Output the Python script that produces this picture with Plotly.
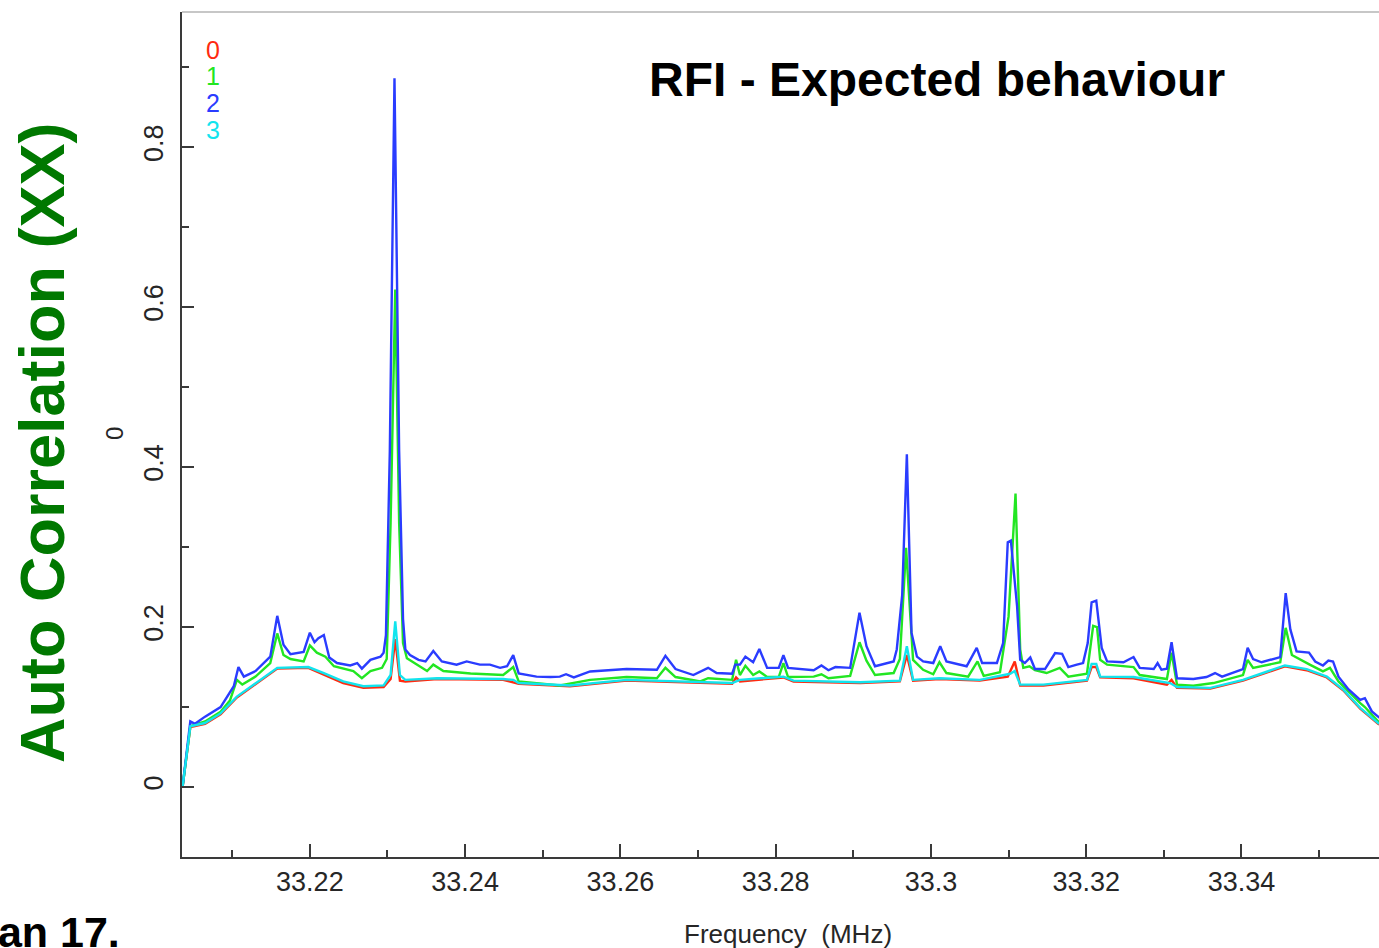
import plotly.graph_objects as go

# ---- figure geometry (pixels) ----
W, H = 1379, 948
M_L, M_R, M_T, M_B = 182, 0, 12, 91
PLOT_W = W - M_L - M_R
PLOT_H = H - M_T - M_B


def paper_x(xp):
    return (xp - M_L) / PLOT_W


def paper_y(yp):
    return (H - M_B - yp) / PLOT_H


# ---- axes ----
X_RANGE = [33.20353, 33.35772]
Y_RANGE = [-0.0875, 0.969]
X_TICKS = [33.22, 33.24, 33.26, 33.28, 33.30, 33.32, 33.34]
X_TICK_TEXT = ["33.22", "33.24", "33.26", "33.28", "33.3", "33.32", "33.34"]
Y_TICKS = [0, 0.2, 0.4, 0.6, 0.8]
Y_TICK_TEXT = ["0", "0.2", "0.4", "0.6", "0.8"]

# ---- auto-correlation spectra, one per input (frequency in MHz) ----
FREQ_0 = [33.2036, 33.2046, 33.2065, 33.2085, 33.2106, 33.2130, 33.2158, 33.2198,
          33.2218, 33.2243, 33.2269, 33.2295, 33.2304, 33.2310, 33.2316, 33.2323,
          33.2364, 33.2449, 33.2469, 33.2535, 33.2608, 33.2744, 33.2749, 33.2754,
          33.2810, 33.2823, 33.2909, 33.2960, 33.2969, 33.2977, 33.3011, 33.3063,
          33.3099, 33.3108, 33.3115, 33.3145, 33.3201, 33.3207, 33.3213, 33.3218,
          33.3261, 33.3304, 33.3310, 33.3317, 33.3360, 33.3402, 33.3456, 33.3484,
          33.3510, 33.3531, 33.3553, 33.3576, 33.3585]
AC_0 = [0.000, 0.075, 0.079, 0.091, 0.112, 0.129, 0.148, 0.149,
        0.141, 0.130, 0.124, 0.125, 0.135, 0.185, 0.133, 0.132,
        0.135, 0.134, 0.129, 0.126, 0.133, 0.129, 0.137, 0.132,
        0.137, 0.132, 0.130, 0.132, 0.165, 0.133, 0.135, 0.133,
        0.138, 0.157, 0.127, 0.127, 0.133, 0.150, 0.150, 0.137,
        0.136, 0.128, 0.134, 0.124, 0.123, 0.133, 0.151, 0.146,
        0.137, 0.121, 0.098, 0.079, 0.075]

FREQ_1 = [33.2036, 33.2046, 33.2065, 33.2085, 33.2097, 33.2106, 33.2113, 33.2130,
          33.2149, 33.2158, 33.2166, 33.2175, 33.2192, 33.2200, 33.2209, 33.2220,
          33.2231, 33.2256, 33.2267, 33.2278, 33.2293, 33.2299, 33.2304, 33.2310,
          33.2315, 33.2320, 33.2325, 33.2338, 33.2351, 33.2359, 33.2372, 33.2407,
          33.2449, 33.2462, 33.2469, 33.2522, 33.2561, 33.2608, 33.2647, 33.2658,
          33.2671, 33.2703, 33.2713, 33.2744, 33.2749, 33.2754, 33.2761, 33.2771,
          33.2779, 33.2789, 33.2804, 33.2810, 33.2816, 33.2849, 33.2859, 33.2868,
          33.2896, 33.2908, 33.2917, 33.2928, 33.2952, 33.2960, 33.2968, 33.2977,
          33.2990, 33.3003, 33.3011, 33.3020, 33.3048, 33.3060, 33.3068, 33.3089,
          33.3100, 33.3109, 33.3115, 33.3119, 33.3127, 33.3134, 33.3149, 33.3166,
          33.3177, 33.3201, 33.3209, 33.3214, 33.3218, 33.3227, 33.3261, 33.3269,
          33.3304, 33.3310, 33.3317, 33.3338, 33.3364, 33.3402, 33.3408, 33.3415,
          33.3450, 33.3457, 33.3465, 33.3488, 33.3505, 33.3514, 33.3525, 33.3553,
          33.3559, 33.3576, 33.3585]
AC_1 = [0.000, 0.076, 0.082, 0.094, 0.108, 0.134, 0.128, 0.138,
        0.155, 0.192, 0.165, 0.160, 0.157, 0.177, 0.168, 0.163,
        0.151, 0.145, 0.136, 0.145, 0.149, 0.160, 0.330, 0.622,
        0.330, 0.180, 0.161, 0.153, 0.145, 0.153, 0.145, 0.142,
        0.140, 0.150, 0.132, 0.127, 0.134, 0.1375, 0.136, 0.149,
        0.1375, 0.132, 0.136, 0.134, 0.159, 0.140, 0.1516, 0.140,
        0.1445, 0.1375, 0.1375, 0.155, 0.1375, 0.138, 0.141, 0.136,
        0.139, 0.181, 0.158, 0.140, 0.1425, 0.160, 0.299, 0.159,
        0.1466, 0.141, 0.156, 0.1425, 0.138, 0.157, 0.139, 0.1435,
        0.213, 0.367, 0.172, 0.149, 0.151, 0.146, 0.1425, 0.149,
        0.138, 0.1416, 0.2016, 0.200, 0.159, 0.153, 0.150, 0.140,
        0.135, 0.168, 0.128, 0.1266, 0.130, 0.140, 0.159, 0.149,
        0.156, 0.199, 0.165, 0.153, 0.1445, 0.149, 0.132, 0.105,
        0.100, 0.082, 0.078]

FREQ_2 = [33.2036, 33.2046, 33.2052, 33.2065, 33.2085, 33.2097, 33.2102, 33.2108,
          33.2115, 33.2130, 33.2149, 33.2158, 33.2166, 33.2175, 33.2192, 33.2200,
          33.2206, 33.2211, 33.2218, 33.2225, 33.2235, 33.2252, 33.2261, 33.2267,
          33.2278, 33.2291, 33.2295, 33.2298, 33.2303, 33.2309, 33.2315, 33.2320,
          33.2323, 33.2329, 33.2340, 33.2349, 33.2359, 33.2370, 33.2389, 33.2402,
          33.2419, 33.2432, 33.2445, 33.2454, 33.2462, 33.2469, 33.2492, 33.2510,
          33.2522, 33.2530, 33.2540, 33.2561, 33.2587, 33.2608, 33.2647, 33.2658,
          33.2671, 33.2694, 33.2713, 33.2724, 33.2744, 33.2748, 33.2754, 33.2761,
          33.2771, 33.2779, 33.2789, 33.2804, 33.2810, 33.2816, 33.2849, 33.2859,
          33.2868, 33.2877, 33.2896, 33.2908, 33.2917, 33.2928, 33.2952, 33.2956,
          33.2963, 33.2969, 33.2975, 33.2982, 33.2990, 33.3003, 33.3012, 33.3020,
          33.3046, 33.3059, 33.3066, 33.3085, 33.3093, 33.3099, 33.3103, 33.3111,
          33.3115, 33.3121, 33.3128, 33.3134, 33.3147, 33.3160, 33.3169, 33.3177,
          33.3188, 33.3196, 33.3202, 33.3207, 33.3213, 33.3220, 33.3227, 33.3248,
          33.3261, 33.3269, 33.3287, 33.3292, 33.3297, 33.3304, 33.3310, 33.3317,
          33.3338, 33.3355, 33.3366, 33.3375, 33.3402, 33.3408, 33.3415, 33.3426,
          33.3450, 33.3457, 33.3463, 33.3471, 33.3487, 33.3495, 33.3505, 33.3512,
          33.3518, 33.3525, 33.3538, 33.3553, 33.3559, 33.3568, 33.3576, 33.3585]
AC_2 = [0.000, 0.082, 0.079, 0.088, 0.100, 0.118, 0.126, 0.150,
        0.138, 0.145, 0.163, 0.214, 0.178, 0.166, 0.169, 0.193,
        0.181, 0.186, 0.190, 0.162, 0.155, 0.152, 0.155, 0.148,
        0.159, 0.163, 0.168, 0.190, 0.420, 0.886, 0.420, 0.210,
        0.172, 0.165, 0.159, 0.157, 0.170, 0.157, 0.153, 0.157,
        0.153, 0.153, 0.149, 0.151, 0.165, 0.142, 0.138, 0.1375,
        0.138, 0.141, 0.137, 0.1445, 0.146, 0.1475, 0.1466, 0.164,
        0.1475, 0.140, 0.149, 0.1425, 0.1416, 0.153, 0.153, 0.163,
        0.156, 0.1725, 0.149, 0.149, 0.165, 0.149, 0.146, 0.152,
        0.146, 0.150, 0.149, 0.218, 0.176, 0.151, 0.157, 0.172,
        0.240, 0.416, 0.193, 0.163, 0.157, 0.155, 0.176, 0.157,
        0.151, 0.174, 0.155, 0.155, 0.180, 0.306, 0.308, 0.226,
        0.159, 0.155, 0.162, 0.1475, 0.1475, 0.1675, 0.1666, 0.150,
        0.153, 0.155, 0.180, 0.231, 0.233, 0.174, 0.157, 0.156,
        0.1625, 0.149, 0.1475, 0.155, 0.1466, 0.148, 0.181, 0.136,
        0.135, 0.1375, 0.1425, 0.138, 0.1475, 0.174, 0.160, 0.156,
        0.1625, 0.2425, 0.197, 0.1695, 0.168, 0.157, 0.152, 0.158,
        0.157, 0.138, 0.122, 0.109, 0.111, 0.0945, 0.088, 0.082]

FREQ_3 = [33.2036, 33.2046, 33.2065, 33.2085, 33.2106, 33.2130, 33.2158, 33.2198,
          33.2218, 33.2243, 33.2269, 33.2295, 33.2304, 33.2310, 33.2316, 33.2323,
          33.2364, 33.2449, 33.2462, 33.2469, 33.2535, 33.2608, 33.2744, 33.2754,
          33.2810, 33.2823, 33.2909, 33.2960, 33.2969, 33.2977, 33.3011, 33.3063,
          33.3102, 33.3108, 33.3115, 33.3145, 33.3201, 33.3207, 33.3213, 33.3218,
          33.3261, 33.3308, 33.3317, 33.3360, 33.3402, 33.3456, 33.3484, 33.3510,
          33.3531, 33.3553, 33.3576, 33.3585]
AC_3 = [0.000, 0.076, 0.080, 0.092, 0.113, 0.130, 0.149, 0.150,
        0.1425, 0.132, 0.126, 0.127, 0.140, 0.207, 0.140, 0.134,
        0.136, 0.135, 0.134, 0.130, 0.127, 0.134, 0.130, 0.134,
        0.138, 0.133, 0.131, 0.133, 0.176, 0.134, 0.136, 0.134,
        0.1416, 0.145, 0.128, 0.128, 0.134, 0.154, 0.154, 0.138,
        0.1375, 0.130, 0.125, 0.124, 0.134, 0.152, 0.1475, 0.138,
        0.122, 0.099, 0.080, 0.076]

INPUT_LABELS = ["0", "1", "2", "3"]
INPUT_COLORS = ["#ff2a10", "#22e622", "#2a3cff", "#12e4ee"]
SERIES = [(FREQ_0, AC_0), (FREQ_1, AC_1), (FREQ_2, AC_2), (FREQ_3, AC_3)]

AXIS_COLOR = "#3a3a3a"
TEXT_COLOR = "#262626"
BASE_FONT = "Liberation Sans, Arial, Helvetica, sans-serif"

fig = go.Figure()
for (freq, ac), label, color in zip(SERIES, INPUT_LABELS, INPUT_COLORS):
    fig.add_trace(go.Scatter(
        x=freq, y=ac, mode="lines", name=label,
        line=dict(color=color, width=2.4),
        showlegend=False, hoverinfo="skip",
    ))

fig.update_layout(
    width=W, height=H,
    margin=dict(l=M_L, r=M_R, t=M_T, b=M_B, pad=0),
    paper_bgcolor="white", plot_bgcolor="white",
    font=dict(family=BASE_FONT, color=TEXT_COLOR),
    xaxis=dict(
        range=X_RANGE, showgrid=False, zeroline=False,
        showline=True, linecolor=AXIS_COLOR, linewidth=2,
        ticks="inside", ticklen=13, tickwidth=1.5, tickcolor=AXIS_COLOR,
        tickmode="array", tickvals=X_TICKS, ticktext=X_TICK_TEXT,
        tickfont=dict(size=27, color=TEXT_COLOR),
        ticklabelstandoff=0,
        minor=dict(ticks="inside", ticklen=7, tickwidth=1.5, tickcolor=AXIS_COLOR,
                   tickmode="linear", tick0=33.21, dtick=0.01, showgrid=False),
    ),
    yaxis=dict(
        range=Y_RANGE, showgrid=False, zeroline=False,
        showline=True, linecolor=AXIS_COLOR, linewidth=2,
        ticks="inside", ticklen=12, tickwidth=1.5, tickcolor=AXIS_COLOR,
        tickmode="array", tickvals=Y_TICKS, ticktext=Y_TICK_TEXT,
        tickangle=-90, tickfont=dict(size=27, color=TEXT_COLOR),
        ticklabelstandoff=6,
        minor=dict(ticks="inside", ticklen=7, tickwidth=1.5, tickcolor=AXIS_COLOR,
                   tickmode="linear", tick0=0.1, dtick=0.2, showgrid=False),
    ),
    shapes=[dict(type="line", xref="paper", yref="paper", x0=0, x1=1, y0=1, y1=1,
                 line=dict(color="#b5b5b5", width=1.5))],
)

annotations = [
    # chart heading
    dict(text="<b>RFI - Expected behaviour</b>", x=paper_x(937), y=paper_y(80),
         font=dict(size=48, color="black", family="Liberation Sans, Arial, sans-serif")),
    # large rotated axis heading
    dict(text="<b>Auto Correlation (XX)</b>", x=paper_x(42), y=paper_y(443), textangle=-90,
         font=dict(size=63, color="#007800", family="Liberation Sans, Arial, sans-serif")),
    # date caption, running off the left edge
    dict(text="<b>Jan 17.</b>", x=paper_x(122), y=paper_y(932), xanchor="right",
         font=dict(size=43, color="black", family="Liberation Sans, Arial, sans-serif")),
    # axis titles
    dict(text="Frequency\u00a0\u00a0(MHz)", x=paper_x(788), y=paper_y(934),
         font=dict(size=26, color=TEXT_COLOR)),
    dict(text="0", x=paper_x(114), y=paper_y(434), textangle=-90,
         font=dict(size=24, color=TEXT_COLOR)),
]
# colour key for the four inputs
for label, color, ypix in zip(INPUT_LABELS, INPUT_COLORS, [50, 76, 103, 130]):
    annotations.append(dict(text=label, x=paper_x(213), y=paper_y(ypix),
                            height=24, valign="middle",
                            font=dict(size=25, color=color)))

for a in annotations:
    a.setdefault("xref", "paper")
    a.setdefault("yref", "paper")
    a.setdefault("showarrow", False)
    a.setdefault("xanchor", "center")
    a.setdefault("yanchor", "middle")
fig.update_layout(annotations=annotations)

fig.write_html("out.html")
